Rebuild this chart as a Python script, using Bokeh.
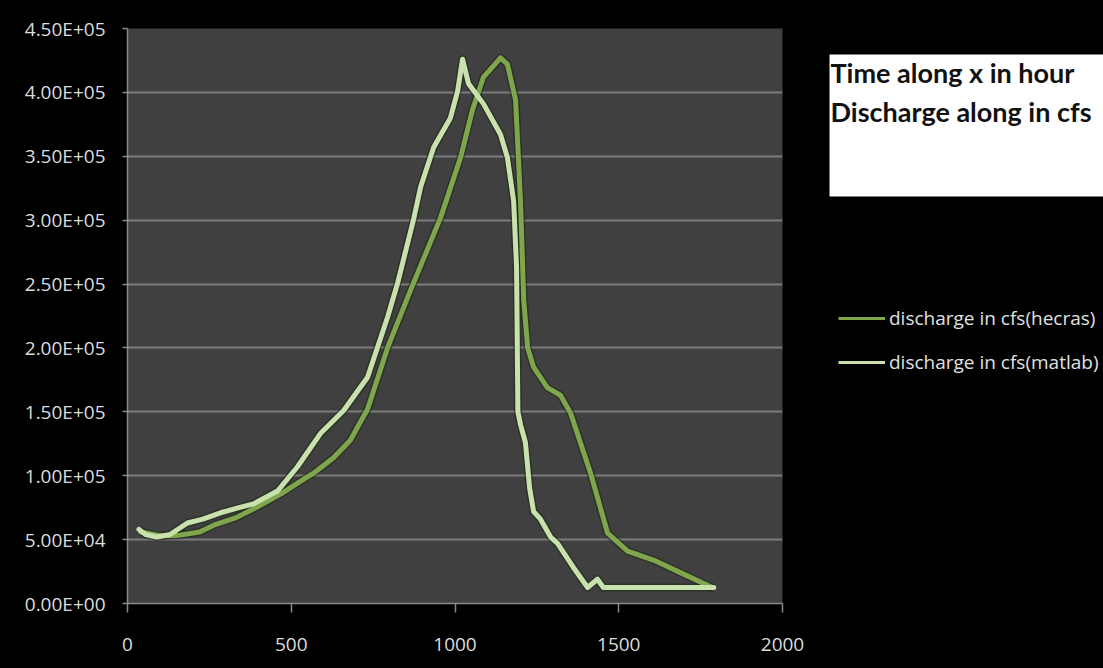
from bokeh.plotting import figure
from bokeh.layouts import row
from bokeh.models import Range1d, FixedTicker, Legend, LegendItem, Label
from bokeh.embed import file_html
from bokeh.resources import INLINE

# ---- data ----
hecras_x = [40, 100, 160, 220, 270, 330, 400, 470, 530, 568, 629, 681, 711, 733, 794, 864,
            956, 1017, 1053, 1087, 1139, 1160, 1185, 1200, 1210, 1222, 1240, 1282, 1322, 1353,
            1414, 1466, 1527, 1606, 1698, 1786]
hecras_y = [56000, 53000, 53500, 56000, 62000, 67000, 76000, 86000, 96000, 102000, 114000,
            128000, 142000, 152000, 200000, 245000, 302000, 349000, 386000, 412000, 427000,
            422000, 394000, 315000, 237000, 200000, 185000, 169000, 163000, 149000, 102000,
            55000, 41000, 34000, 23000, 12500]

matlab_x = [35, 55, 90, 130, 183, 230, 284, 340, 385, 458, 519, 589, 660, 733, 794, 824, 873,
            895, 935, 986, 1008, 1023, 1041, 1087, 1139, 1160, 1179, 1188, 1192, 1200, 1215,
            1228, 1240, 1261, 1292, 1313, 1362, 1405, 1435, 1453, 1600, 1790]
matlab_y = [58000, 54000, 52000, 54000, 63000, 66000, 71000, 75000, 78000, 88000, 107000,
            133000, 151000, 177000, 224000, 250000, 300000, 326000, 357000, 380000, 401000,
            426000, 407000, 391000, 367000, 349000, 315000, 263000, 150000, 140000, 126000,
            90000, 72000, 66000, 52000, 47000, 28000, 12500, 19000, 12500, 12500, 12500]

x_ticks = [0, 500, 1000, 1500, 2000]
y_ticks = [0, 50000, 100000, 150000, 200000, 250000, 300000, 350000, 400000, 450000]
y_tick_labels = ["0.00E+00", "5.00E+04", "1.00E+05", "1.50E+05", "2.00E+05",
                 "2.50E+05", "3.00E+05", "3.50E+05", "4.00E+05", "4.50E+05"]
series_names = ["discharge in cfs(hecras)", "discharge in cfs(matlab)"]
note_lines = ["Time along x in hour", "Discharge along in cfs"]

HECRAS_COLOR = "#7fa64c"
MATLAB_COLOR = "#c9e1ad"
NAN = float("nan")

TOP, BOTTOM = 28, 65
W1 = 810
W2, H = 1103 - W1, 668

# ---------------- main chart ----------------
p = figure(width=W1, height=H, output_backend="svg", toolbar_location=None,
           x_range=Range1d(0, 2000), y_range=Range1d(0, 450000),
           min_border_left=127, min_border_right=W1 - 782, min_border_top=TOP,
           min_border_bottom=BOTTOM,
           background_fill_color="#404040", border_fill_color="black")
p.outline_line_color = None

p.xgrid.visible = False
p.ygrid.ticker = FixedTicker(ticks=y_ticks)
p.ygrid.grid_line_color = "#7c7c7c"
p.ygrid.grid_line_width = 2

for ax in (p.xaxis, p.yaxis):
    ax.axis_line_color = "#8a8a8a"
    ax.axis_line_width = 1.5
    ax.major_tick_line_color = "#8a8a8a"
    ax.major_tick_line_width = 1.5
    ax.minor_tick_line_color = None
    ax.major_tick_in = 0
    ax.major_label_text_font = "Open Sans"
    ax.major_label_text_font_size = "19px"
    ax.major_label_text_color = "#dcdcdc"

p.xaxis.ticker = FixedTicker(ticks=x_ticks)
p.xaxis.major_tick_out = 9
p.xaxis.major_label_standoff = 25

p.yaxis.ticker = FixedTicker(ticks=y_ticks)
p.yaxis.major_label_overrides = dict(zip(y_ticks, y_tick_labels))
p.yaxis.major_tick_out = 5
p.yaxis.major_label_standoff = 17

p.line(hecras_x, hecras_y, line_color="#1e2616", line_width=8, line_alpha=0.55, line_join="round")
p.line(matlab_x, matlab_y, line_color="#1e2616", line_width=8, line_alpha=0.55, line_join="round")
p.line(hecras_x, hecras_y, line_color=HECRAS_COLOR, line_width=5, line_join="round",
       line_cap="round")
p.line(matlab_x, matlab_y, line_color=MATLAB_COLOR, line_width=5, line_join="round",
       line_cap="round")

# ---------------- right panel: note box + legend ----------------
q = figure(width=W2, height=H, output_backend="svg", toolbar_location=None,
           x_range=Range1d(0, W2), y_range=Range1d(BOTTOM, H - TOP),
           x_axis_type=None, y_axis_type=None,
           min_border_left=0, min_border_right=0, min_border_top=TOP, min_border_bottom=BOTTOM,
           background_fill_color="black", background_fill_alpha=0.0,
           border_fill_color="black")
q.outline_line_color = None
q.grid.visible = False

bx = 829 - W1
q.quad(left=bx, right=W2 + 5, top=H - 54, bottom=H - 196, fill_color="white", line_color=None)
for i, yb in enumerate((72, 111)):
    q.add_layout(Label(x=bx + 1, y=H - yb, text=note_lines[i],
                       text_font="Lato", text_font_size="27px",
                       text_font_style="bold", text_color="#111111",
                       text_baseline="alphabetic"))

k_hec = q.line(x=[NAN], y=[NAN], line_color=HECRAS_COLOR, line_width=3)
k_mat = q.line(x=[NAN], y=[NAN], line_color=MATLAB_COLOR, line_width=3)
legend = Legend(items=[LegendItem(label=series_names[0], renderers=[k_hec]),
                       LegendItem(label=series_names[1], renderers=[k_mat])],
                location=(838 - W1, (H - BOTTOM) - 375), glyph_width=47, glyph_height=20,
                label_height=20, label_standoff=4, spacing=18, padding=0, margin=0,
                border_line_color=None, background_fill_alpha=0,
                label_text_font="Open Sans", label_text_font_size="19px",
                label_text_color="#e0e0e0")
q.add_layout(legend)

layout = row(p, q, spacing=0, styles={"background-color": "black"})
open("out.html", "w").write(file_html(layout, INLINE))
